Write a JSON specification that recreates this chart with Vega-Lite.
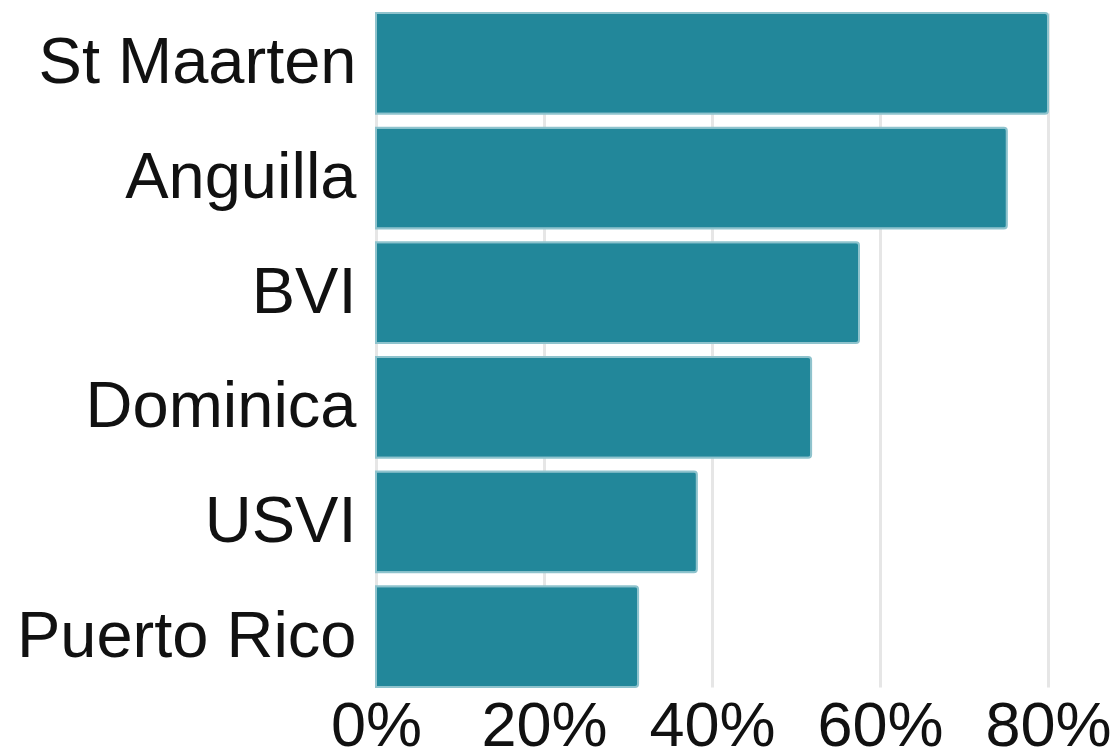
{
  "$schema": "https://vega.github.io/schema/vega-lite/v6.json",
  "width": 672,
  "height": 674,
  "autosize": {"type": "none"},
  "padding": {"left": 376, "top": 13, "right": 69, "bottom": 64},
  "background": "white",
  "config": {"view": {"stroke": null}, "font": "Liberation Sans"},
  "data": {"values": [
    {"island": "St Maarten", "share": 0.80},
    {"island": "Anguilla", "share": 0.751},
    {"island": "BVI", "share": 0.575},
    {"island": "Dominica", "share": 0.518},
    {"island": "USVI", "share": 0.382},
    {"island": "Puerto Rico", "share": 0.312}
  ]},
  "mark": {"type": "bar", "color": "#22879a", "stroke": "#8fc3cd", "strokeWidth": 2, "cornerRadiusEnd": 3},
  "encoding": {
    "y": {"field": "island", "type": "nominal", "sort": null, "title": null,
      "scale": {"paddingInner": 0.12, "paddingOuter": 0},
      "axis": {"domain": false, "ticks": false, "labelFontSize": 65, "labelColor": "#111", "labelPadding": 20, "labelLimit": 400, "grid": false}},
    "x": {"field": "share", "type": "quantitative", "title": null,
      "scale": {"domain": [0, 0.8], "nice": false},
      "axis": {"format": ".0%", "values": [0, 0.2, 0.4, 0.6, 0.8], "domain": false, "ticks": false, "labelFontSize": 63, "labelColor": "#111", "labelPadding": 8, "grid": true, "gridColor": "#e6e6e6", "gridWidth": 3, "labelFlush": false}}
  }
}
